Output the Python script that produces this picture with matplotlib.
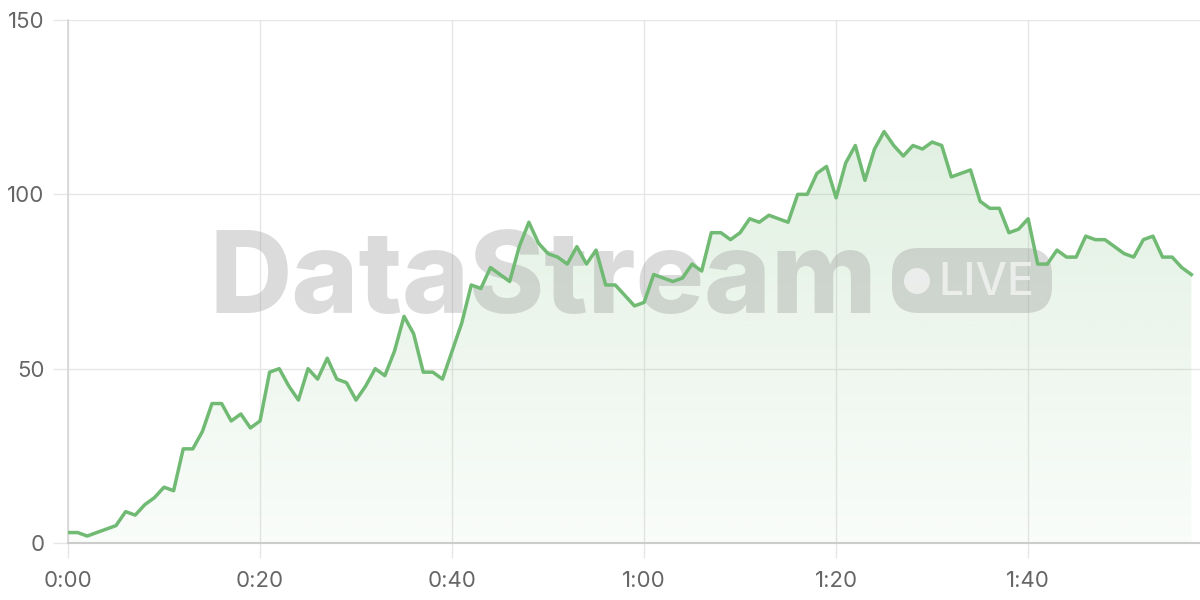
import numpy as np
import matplotlib
matplotlib.use('Agg')
from matplotlib import pyplot as plt
from matplotlib.patches import FancyBboxPatch, Ellipse
from matplotlib.path import Path
from matplotlib.patches import PathPatch

plt.rcParams['font.family'] = ['Inter', 'DejaVu Sans']

# viewers over time, one sample per second
seconds = list(range(118))
viewers = [3, 3, 2, 3, 4, 5, 9, 8, 11, 13,
           16, 15, 27, 27, 32, 40, 40, 35, 37, 33,
           35, 49, 50, 45, 41, 50, 47, 53, 47, 46,
           41, 45, 50, 48, 55, 65, 60, 49, 49, 47,
           55, 63, 74, 73, 79, 77, 75, 85, 92, 86,
           83, 82, 80, 85, 80, 84, 74, 74, 71, 68,
           69, 77, 76, 75, 76, 80, 78, 89, 89, 87,
           89, 93, 92, 94, 93, 92, 100, 100, 106, 108,
           99, 109, 114, 104, 113, 118, 114, 111, 114, 113,
           115, 114, 105, 106, 107, 98, 96, 96, 89, 90,
           93, 80, 80, 84, 82, 82, 88, 87, 87, 85,
           83, 82, 87, 88, 82, 82, 79, 77]
xticks = [0, 20, 40, 60, 80, 100]
xlabels = ['0:00', '0:20', '0:40', '1:00', '1:20', '1:40']
yticks = [0, 50, 100, 150]

green = '#70ba73'
grid_c = '#e6e6e6'
text_c = '#666666'

fig = plt.figure(figsize=(12, 6), dpi=100)
ax = fig.add_axes([68/1200, 57/600, 1132/1200, 523/600])

x = np.array(seconds)
y = np.array(viewers)

# gradient fill under the line (stronger at the top)
poly = np.vstack([[x[0], 0], np.column_stack([x, y]), [x[-1], 0]])
clip = PathPatch(Path(poly), transform=ax.transData, facecolor='none', edgecolor='none')
ax.add_patch(clip)
grad = np.zeros((256, 1, 4))
grad[:, 0, :3] = matplotlib.colors.to_rgb(green)
grad[:, 0, 3] = np.linspace(0.04, 0.26, 256)
im = ax.imshow(grad, extent=[x[0], x[-1], 0, 150], aspect='auto', zorder=1, origin='lower')
im.set_clip_path(clip)

ax.plot(x, y, color=green, linewidth=2.5, zorder=4)

ax.set_xlim(0, 117.9)
ax.set_ylim(0, 150)
ax.set_xticks(xticks)
ax.set_xticklabels(xlabels)
ax.set_yticks(yticks)
ax.grid(True, color=grid_c, linewidth=1, zorder=0)
ax.set_axisbelow(True)
ax.tick_params(axis='x', length=11, width=1, color=grid_c, pad=9, labelsize=16, labelcolor=text_c)
ax.tick_params(axis='y', length=11, width=1, color=grid_c, pad=6, labelsize=16, labelcolor=text_c)
for s in ['top', 'right']:
    ax.spines[s].set_visible(False)
ax.spines['left'].set_color('#d6d6d6')
ax.spines['bottom'].set_color('#cccccc')
ax.spines['left'].set_linewidth(1.2)
ax.spines['bottom'].set_linewidth(1.5)

# watermark
wm = '#9a9a9a'
ax.text(209/1200, (600-313)/600, 'DataStream', transform=fig.transFigure,
        fontsize=82, fontweight='heavy', color=wm, alpha=0.35,
        ha='left', va='baseline', zorder=3)
pill = FancyBboxPatch((892/1200, (600-313)/600), 160/1200, 65/600,
                      boxstyle='round,pad=0,rounding_size=0.022',
                      transform=fig.transFigure, facecolor=wm, edgecolor='none',
                      alpha=0.35, zorder=3, mutation_aspect=2)
ax.add_patch(pill)
ax.add_patch(Ellipse((917/1200, (600-281)/600), 26/1200, 26/600, transform=fig.transFigure,
                     facecolor='white', edgecolor='none', alpha=0.6, zorder=3))
ax.text(938/1200, (600-295)/600, 'LIVE', transform=fig.transFigure,
        fontsize=32, fontweight='medium', color='white', alpha=0.6,
        ha='left', va='baseline', zorder=3)

fig.savefig('out.png', dpi=100)
